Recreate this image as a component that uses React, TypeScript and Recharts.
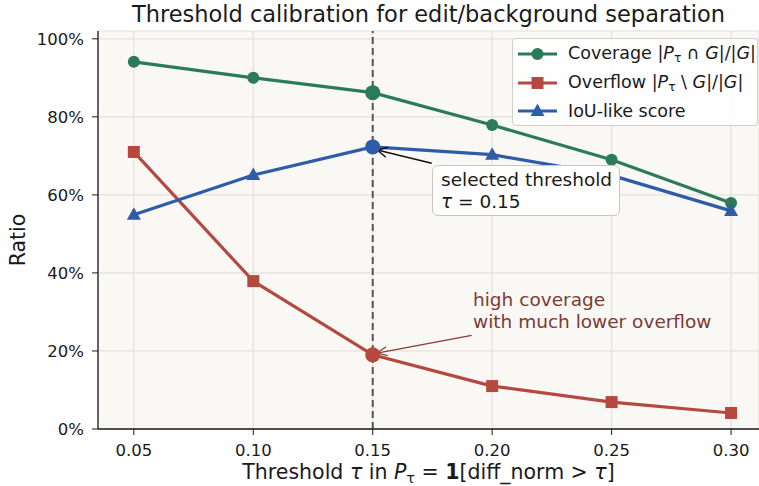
import React from "react"
import {
  CartesianGrid,
  Line,
  LineChart,
  ReferenceLine,
  XAxis,
  YAxis,
} from "recharts"

// values
const thresholds = [0.05, 0.1, 0.15, 0.2, 0.25, 0.3]
const coverage = [0.941, 0.9, 0.862, 0.779, 0.69, 0.579]
const overflow = [0.71, 0.379, 0.19, 0.11, 0.069, 0.041]
const iouScore = [0.549, 0.651, 0.723, 0.703, 0.65, 0.559]

const xTicks = [0.05, 0.1, 0.15, 0.2, 0.25, 0.3]
const yTicks = [0, 0.2, 0.4, 0.6, 0.8, 1.0]
const selectedThreshold = 0.15

const GREEN = "#2b7a5b"
const RED = "#b5483f"
const BLUE = "#2f5ca6"
const FONT = "'DejaVu Sans', sans-serif"

const data = thresholds.map((t, i) => ({
  t,
  coverage: coverage[i],
  overflow: overflow[i],
  iou: iouScore[i],
}))

type Shape = "circle" | "square" | "triangle"

function markerShape(shape: Shape, color: string, cx: number, cy: number, key?: string) {
  if (shape === "square") {
    return <rect key={key} x={cx - 6} y={cy - 6} width={12} height={12} fill={color} />
  }
  if (shape === "triangle") {
    return (
      <path
        key={key}
        d={`M${cx},${cy - 7.5} L${cx + 7},${cy + 5} L${cx - 7},${cy + 5} Z`}
        fill={color}
      />
    )
  }
  return <circle key={key} cx={cx} cy={cy} r={6} fill={color} />
}

function makeDot(shape: Shape, color: string) {
  return (props: any) => {
    const { cx, cy, payload, index } = props
    const key = `dot-${shape}-${index}`
    if (cx == null || cy == null) return <g key={key} />
    if (payload && payload.t === selectedThreshold) {
      return <circle key={key} cx={cx} cy={cy} r={7.5} fill={color} />
    }
    return markerShape(shape, color, cx, cy, key)
  }
}

const XTick = (props: any) => {
  const { x, y, payload } = props
  return (
    <text x={x} y={y + 19} textAnchor="middle" fontSize={16.5} fontFamily={FONT} fill="#1a1a1a">
      {Number(payload.value).toFixed(2)}
    </text>
  )
}

const YTick = (props: any) => {
  const { x, y, payload } = props
  return (
    <text x={x - 6} y={y + 6} textAnchor="end" fontSize={16.5} fontFamily={FONT} fill="#1a1a1a">
      {`${Math.round(payload.value * 100)}%`}
    </text>
  )
}

const P = () => (
  <>
    <i>P</i>
    <sub style={{ fontSize: "0.7em", verticalAlign: "-0.25em" }}>τ</sub>
  </>
)

const seriesMeta: { key: string; color: string; shape: Shape; label: React.ReactNode }[] = [
  {
    key: "coverage",
    color: GREEN,
    shape: "circle",
    label: (
      <>
        Coverage |<P /> ∩ <i>G</i>|/|<i>G</i>|
      </>
    ),
  },
  {
    key: "overflow",
    color: RED,
    shape: "square",
    label: (
      <>
        Overflow |<P /> \ <i>G</i>|/|<i>G</i>|
      </>
    ),
  },
  { key: "iou", color: BLUE, shape: "triangle", label: <>IoU-like score</> },
]

function LegendBox() {
  return (
    <div
      style={{
        position: "absolute",
        left: 512,
        top: 38,
        width: 246,
        height: 88,
        border: "1.3px solid #d3d0ca",
        borderRadius: 4,
        background: "rgba(255,255,255,0.85)",
        fontSize: 17.5,
        color: "#1a1a1a",
        paddingTop: 1,
        boxSizing: "border-box",
      }}
    >
      {seriesMeta.map((s) => (
        <div key={s.key} style={{ display: "flex", alignItems: "center", height: 28.5 }}>
          <svg width={46} height={20} style={{ marginLeft: 3, marginRight: 6, flexShrink: 0 }}>
            <line x1={2} y1={10} x2={41} y2={10} stroke={s.color} strokeWidth={3} />
            {markerShape(s.shape, s.color, 21.5, 10)}
          </svg>
          <span style={{ whiteSpace: "nowrap" }}>{s.label}</span>
        </div>
      ))}
    </div>
  )
}

export default function App() {
  return (
    <div
      style={{
        position: "absolute",
        left: 0,
        top: 0,
        width: 759,
        height: 486,
        background: "#ffffff",
        fontFamily: FONT,
        color: "#1a1a1a",
      }}
    >
      <LineChart
        width={759}
        height={486}
        data={data}
        margin={{ top: 31, right: 0, left: 38, bottom: 27 }}
      >
        <defs>
          <marker
            id="arrowBlack"
            markerUnits="userSpaceOnUse"
            markerWidth={14}
            markerHeight={12}
            refX={11}
            refY={6}
            orient="auto"
          >
            <path d="M1,1 L11,6 L1,11" fill="none" stroke="#111" strokeWidth={1.5} />
          </marker>
          <marker
            id="arrowRed"
            markerUnits="userSpaceOnUse"
            markerWidth={14}
            markerHeight={12}
            refX={11}
            refY={6}
            orient="auto"
          >
            <path d="M1,1.5 L11,6 L1,10.5" fill="none" stroke="#8a3a33" strokeWidth={1.2} />
          </marker>
        </defs>
        <CartesianGrid stroke="#e5e1da" strokeWidth={1.2} fill="#f9f8f5" />
        <XAxis
          dataKey="t"
          type="number"
          domain={[0.035, 0.3117]}
          ticks={xTicks}
          allowDataOverflow
          tick={XTick}
          tickLine={{ stroke: "#1a1a1a" }}
          axisLine={{ stroke: "#1a1a1a", strokeWidth: 1.3 }}
          tickSize={6}
          height={30}
        />
        <YAxis
          type="number"
          domain={[0, 1.02]}
          ticks={yTicks}
          allowDataOverflow
          tick={YTick}
          tickLine={{ stroke: "#1a1a1a" }}
          axisLine={{ stroke: "#1a1a1a", strokeWidth: 1.3 }}
          tickSize={6}
          width={60}
        />
        <ReferenceLine
          x={selectedThreshold}
          stroke="#555555"
          strokeWidth={2}
          strokeDasharray="7 4"
        />
        {seriesMeta.map((s) => (
          <Line
            key={s.key}
            dataKey={s.key}
            type="linear"
            stroke={s.color}
            strokeWidth={3.2}
            dot={makeDot(s.shape, s.color)}
            activeDot={false}
            isAnimationActive={false}
          />
        ))}
        <ReferenceLine
          segment={[
            { x: 0.1747, y: 0.681 },
            { x: 0.1519, y: 0.715 },
          ]}
          stroke="#111"
          strokeWidth={1.5}
          markerEnd="url(#arrowBlack)"
        />
        <ReferenceLine
          segment={[
            { x: 0.1914, y: 0.24 },
            { x: 0.1518, y: 0.1946 },
          ]}
          stroke="#8a3a33"
          strokeWidth={1.2}
          markerEnd="url(#arrowRed)"
        />
      </LineChart>

      <div
        style={{
          position: "absolute",
          left: 0,
          width: 759,
          top: 0,
          paddingLeft: 98,
          boxSizing: "border-box",
          textAlign: "center",
          fontSize: 22.5,
          lineHeight: "28px",
          whiteSpace: "nowrap",
        }}
      >
        Threshold calibration for edit/background separation
      </div>

      <div
        style={{
          position: "absolute",
          left: 18,
          top: 240,
          transform: "translate(-50%, -50%) rotate(-90deg)",
          fontSize: 20.5,
          whiteSpace: "nowrap",
        }}
      >
        Ratio
      </div>

      <div
        style={{
          position: "absolute",
          left: 98,
          width: 661,
          top: 459,
          textAlign: "center",
          fontSize: 20.5,
          lineHeight: "26px",
          whiteSpace: "nowrap",
        }}
      >
        Threshold <i>τ</i> in <i>P</i>
        <sub style={{ fontSize: "0.7em", verticalAlign: "-0.25em" }}>τ</sub> = <b>1</b>
        [diff_norm &gt; <i>τ</i>]
      </div>

      <LegendBox />

      <div
        style={{
          position: "absolute",
          left: 432,
          top: 165,
          width: 188,
          height: 51,
          boxSizing: "border-box",
          border: "1.5px solid #cbc7c0",
          borderRadius: 6,
          background: "#ffffff",
          padding: "3px 0 0 8px",
          fontSize: 18.5,
          lineHeight: "22px",
          whiteSpace: "nowrap",
        }}
      >
        selected threshold
        <br />
        <i>τ</i> = 0.15
      </div>

      <div
        style={{
          position: "absolute",
          left: 473,
          top: 289,
          fontSize: 18.5,
          lineHeight: "22px",
          color: "#7d3a33",
          whiteSpace: "nowrap",
        }}
      >
        high coverage
        <br />
        with much lower overflow
      </div>
    </div>
  )
}
